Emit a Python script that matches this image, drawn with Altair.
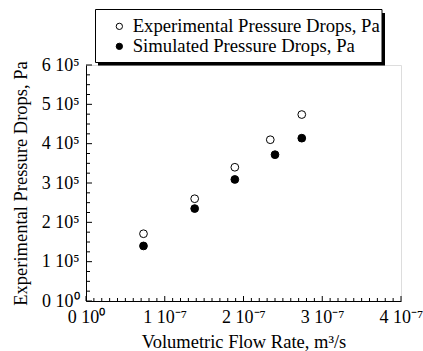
import altair as alt
import pandas as pd

# Data
flow_exp = [0.73e-7, 1.38e-7, 1.89e-7, 2.34e-7, 2.74e-7]
dp_exp = [1.71e5, 2.60e5, 3.40e5, 4.10e5, 4.74e5]
flow_sim = [0.73e-7, 1.38e-7, 1.89e-7, 2.40e-7, 2.74e-7]
dp_sim = [1.40e5, 2.35e5, 3.09e5, 3.72e5, 4.14e5]
series = ["Experimental Pressure Drops, Pa", "Simulated Pressure Drops, Pa"]

x_major = [0, 1e-7, 2e-7, 3e-7, 4e-7]
x_labels = ["0 10\u2070", "1 10\u207b\u2077", "2 10\u207b\u2077", "3 10\u207b\u2077", "4 10\u207b\u2077"]
y_major = [0, 1e5, 2e5, 3e5, 4e5, 5e5, 6e5]
y_labels = ["0 10\u2070", "1 10\u2075", "2 10\u2075", "3 10\u2075", "4 10\u2075", "5 10\u2075", "6 10\u2075"]
x_minor = [i * 1e-8 for i in range(41) if i % 10 != 0]
y_minor = [i * 2.5e4 for i in range(25) if i % 4 != 0]

W, H = 315, 236
FONT = "Liberation Serif"

df = pd.DataFrame({
    "flow": flow_exp + flow_sim,
    "dp": dp_exp + dp_sim,
    "series": [series[0]] * len(flow_exp) + [series[1]] * len(flow_sim),
})

xscale = alt.Scale(domain=[0, 4e-7], nice=False, zero=False)
yscale = alt.Scale(domain=[0, 6e5], nice=False, zero=False)

def lab_expr(vals, labs):
    parts = []
    tol = abs(vals[1]) * 1e-3
    for v, l in zip(vals, labs):
        parts.append(f"abs(datum.value - {v!r}) < {tol!r} ? '{l}'")
    return " : ".join(parts) + " : ''"

xaxis = alt.Axis(values=x_major, labelExpr=lab_expr(x_major, x_labels), ticks=False,
                 grid=False, domainColor="black", labelFont=FONT, labelFontSize=18,
                 labelColor="black", labelPadding=7, title="Volumetric Flow Rate, m\u00b3/s",
                 titleFont=FONT, titleFontSize=18.5, titleFontWeight="normal", titleColor="black",
                 titlePadding=6, labelFlush=False)
yaxis = alt.Axis(values=y_major, labelExpr=lab_expr(y_major, y_labels), ticks=False,
                 grid=False, domainColor="black", labelFont=FONT, labelFontSize=18,
                 labelColor="black", labelPadding=7, title="Experimental Pressure Drops, Pa",
                 titleFont=FONT, titleFontSize=18.5, titleFontWeight="normal", titleColor="black",
                 titlePadding=11, labelFlush=False)

points = alt.Chart(df).mark_point(filled=True, size=60, stroke="black", strokeWidth=1, opacity=1).encode(
    x=alt.X("flow:Q", scale=xscale, axis=xaxis),
    y=alt.Y("dp:Q", scale=yscale, axis=yaxis),
    fill=alt.Fill("series:N", scale=alt.Scale(domain=series, range=["white", "black"]),
                  legend=alt.Legend(title=None, orient="none", legendX=24, legendY=-48,
                                    padding=0,
                                    labelFont=FONT, labelFontSize=18.7, labelColor="black",
                                    symbolSize=40, symbolStrokeColor="black", symbolStrokeWidth=1,
                                    symbolType="circle", labelOffset=4, rowPadding=-1.5,
                                    labelLimit=400)),
)

# legend frame with drop shadow (decoration)
frame = alt.Chart(pd.DataFrame({"a": [0]})).mark_rect(fill="white", stroke="black", strokeWidth=1).encode(
    x=alt.value(9.5), x2=alt.value(296), y=alt.value(-55.5), y2=alt.value(-2.5)
)
shadow_r = alt.Chart(pd.DataFrame({"a": [0]})).mark_rule(color="black", strokeWidth=3).encode(
    x=alt.value(297.5), y=alt.value(-52), y2=alt.value(0)
)
shadow_b = alt.Chart(pd.DataFrame({"a": [0]})).mark_rule(color="black", strokeWidth=3).encode(
    x=alt.value(12), x2=alt.value(299), y=alt.value(-1)
)

xmaj = alt.Chart(pd.DataFrame({"v": x_major})).mark_rule(color="black").encode(
    x=alt.X("v:Q", scale=xscale, axis=xaxis), y=alt.value(H), y2=alt.value(H - 5))
xmin = alt.Chart(pd.DataFrame({"v": x_minor})).mark_rule(color="black").encode(
    x=alt.X("v:Q", scale=xscale, axis=xaxis), y=alt.value(H), y2=alt.value(H - 3))
ymaj = alt.Chart(pd.DataFrame({"v": y_major})).mark_rule(color="black").encode(
    y=alt.Y("v:Q", scale=yscale, axis=yaxis), x=alt.value(0), x2=alt.value(6))
ymin = alt.Chart(pd.DataFrame({"v": y_minor})).mark_rule(color="black").encode(
    y=alt.Y("v:Q", scale=yscale, axis=yaxis), x=alt.value(0), x2=alt.value(4))

chart = alt.layer(points, frame, shadow_r, shadow_b, xmin, xmaj, ymin, ymaj).properties(
    width=W, height=H,
    autosize=alt.AutoSizeParams(type="none"),
    padding={"left": 86, "top": 65, "right": 22, "bottom": 50},
).configure_view(stroke="#999999", strokeWidth=1).configure(background="white")

chart.save("out.html", embed_options={"renderer": "svg", "actions": False})
